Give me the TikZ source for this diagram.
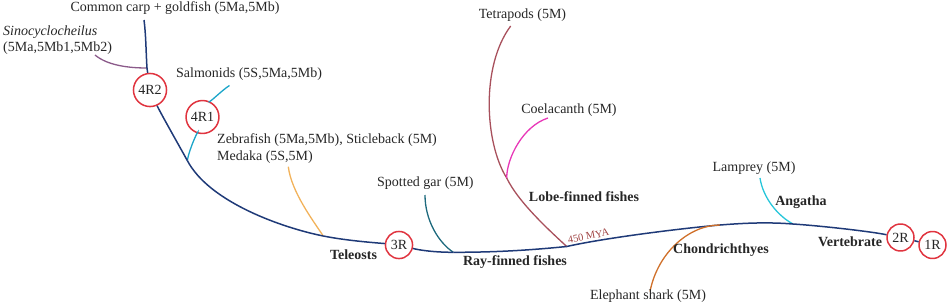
\documentclass[tikz,border=0pt]{standalone}
\usepackage{fontspec}
\setmainfont{Liberation Serif}
\definecolor{spinec}{HTML}{1F3A78}
\definecolor{circred}{HTML}{E0343F}
\definecolor{sinoc}{HTML}{8B5A8A}
\definecolor{salmc}{HTML}{1BA5C9}
\definecolor{medc}{HTML}{F2B25A}
\definecolor{garc}{HTML}{1E6A7E}
\definecolor{tetc}{HTML}{A8505C}
\definecolor{coelc}{HTML}{E838B8}
\definecolor{elec}{HTML}{D0702A}
\definecolor{lamc}{HTML}{27C6DA}
\definecolor{myac}{HTML}{A04444}
\begin{document}
\begin{tikzpicture}[x=1pt,y=-1pt,
  lbl/.style={font=\fontsize{14}{16}\selectfont, inner sep=0pt, text=black!85},
  bld/.style={font=\fontsize{14}{16}\selectfont\bfseries, inner sep=0pt, text=black!85},
  dup/.style={circle, draw=circred, fill=white, line width=1.5pt, inner sep=3pt,
              font=\fontsize{14}{16}\selectfont, text=black!85},
  spine/.style={draw=spinec, line width=1.5pt},
  br/.style={line width=1.3pt},
]
\path[use as bounding box] (0,0) rectangle (948,306);

% duplication circles
\node[dup] (n4R2) at (150,90) {4R2};
\node[dup] (n4R1) at (202.5,117) {4R1};
\node[dup] (n3R) at (399,245) {3R};
\node[dup] (n2R) at (900.5,237.5) {2R};
\node[dup] (n1R) at (932.5,245) {1R};

% coordinates
\coordinate (ctop) at (144,20);
\coordinate (csino) at (147,68);
\coordinate (csino0) at (95,55);
\coordinate (cj4) at (187.3,160.5);
\coordinate (csal) at (229.5,85.5);
\coordinate (cmed0) at (288.3,166.7);
\coordinate (ctel) at (323.3,236);
\coordinate (cgar0) at (425,195);
\coordinate (cgar) at (453.3,252.3);
\coordinate (clobe) at (566.7,246.5);
\coordinate (ctet0) at (510.7,26);
\coordinate (ccoel) at (506.7,178);
\coordinate (ccoel0) at (548,118);
\coordinate (celeph) at (650,291.5);
\coordinate (cchon) at (720,225);
\coordinate (clam0) at (760,178);
\coordinate (clam) at (793,224);

% branches
\draw[br, sinoc] (csino0) .. controls +(12,10) and +(-20,0) .. (csino);
\draw[br, salmc] (cj4) .. controls +(2,-12) and +(-3,10) .. (n4R1);
\draw[br, salmc] (n4R1) .. controls +(5,-12) and +(-8,5) .. (csal);
\draw[br, medc] (cmed0) .. controls +(3,25) and +(-10,-15) .. (ctel);
\draw[br, garc] (cgar0) .. controls +(0,25) and +(-15,-10) .. (cgar);
\draw[br, tetc] (ctet0) .. controls +(-30,40) and +(-22,-35) .. (ccoel);
\draw[br, tetc] (ccoel) .. controls +(12,25) and +(-15,-14) .. (clobe);
\draw[br, coelc] (ccoel0) .. controls +(-25,8) and +(0,-20) .. (ccoel);
\draw[br, lamc] (clam0) .. controls +(3,20) and +(-15,-8) .. (clam);

% backbone
\draw[spine] (ctop) .. controls +(2,15) and +(-1,-15) .. (csino);
\draw[spine] (csino) -- (n4R2);
\draw[spine] (n4R2) .. controls +(10,22) and +(-10,-18) .. (cj4);
\draw[spine] (cj4) .. controls +(22,42) and +(-40,-8) .. (ctel);
\draw[spine] (ctel) .. controls +(25,5) and +(-20,-2) .. (n3R);
\draw[spine] (n3R) .. controls +(20,5) and +(-20,0) .. (cgar);
\draw[spine] (cgar) .. controls +(40,0) and +(-40,4) .. (clobe);
\draw[spine] (clobe) .. controls +(40,-9) and +(-35,3) .. (cchon);
\draw[spine] (cchon) .. controls +(25,-2) and +(-25,-2) .. (clam);
\draw[spine] (clam) .. controls +(30,2) and +(-30,-6) .. (n2R);
\draw[spine] (n2R) -- (n1R);

% elephant shark on top
\draw[br, elec] (celeph) .. controls +(8,-40) and +(-30,0) .. (cchon);

% labels
\node[lbl] (tcarp) at (175,8.5) {Common carp + goldfish (5Ma,5Mb)};
\node[lbl, anchor=west] (tsino) at (3,32) {\itshape Sinocyclocheilus};
\node[lbl, anchor=west] (tsino2) at (3,48) {(5Ma,5Mb1,5Mb2)};
\node[lbl, anchor=west] (tsal) at (176,74) {Salmonids (5S,5Ma,5Mb)};
\node[lbl, anchor=west] (tzeb) at (217,140) {Zebrafish (5Ma,5Mb), Sticleback (5M)};
\node[lbl, anchor=west] (tmed) at (217,157.5) {Medaka (5S,5M)};
\node[bld] (ttel) at (353.5,254.5) {Teleosts};
\node[lbl, anchor=west] (tgar) at (377,183) {Spotted gar (5M)};
\node[bld] (tray) at (515,262) {Ray-finned fishes};
\node[lbl] (ttet) at (522.5,15) {Tetrapods (5M)};
\node[lbl] (tcoel) at (569,110) {Coelacanth (5M)};
\node[bld] (tlobe) at (584,197) {Lobe-finned fishes};
\node[font=\fontsize{10.5}{12}\selectfont, text=myac, inner sep=0pt, rotate=11] (tmya) at (588.5,236) {450 MYA};
\node[lbl] (tele) at (648,296.5) {Elephant shark (5M)};
\node[bld] (tchon) at (721,250.5) {Chondrichthyes};
\node[lbl] (tlam) at (754,168) {Lamprey (5M)};
\node[bld] (tang) at (801,202) {Angatha};
\node[bld] (tver) at (850,242) {Vertebrate};
\end{tikzpicture}
\end{document}
